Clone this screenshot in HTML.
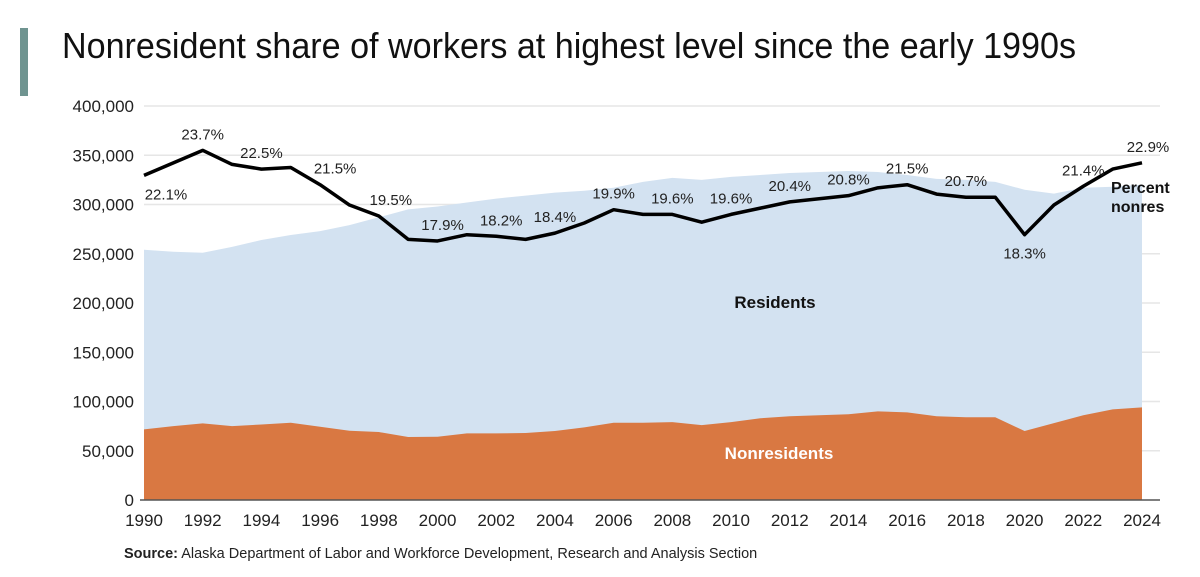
<!DOCTYPE html>
<html><head><meta charset="utf-8"><style>
html,body{margin:0;padding:0;background:#fff;}
svg{display:block;font-family:"Liberation Sans",sans-serif;}
</style></head><body>
<svg id="chart" width="1200" height="577" viewBox="0 0 1200 577">
<rect x="20" y="28" width="8" height="68" fill="#6f9490"/>
<text x="62" y="58" font-size="36" fill="#111" textLength="1014" lengthAdjust="spacingAndGlyphs" style="font-family:'Liberation Sans Narrow','Liberation Sans',sans-serif">Nonresident share of workers at highest level since the early 1990s</text>
<g id="grid"></g><g id="areas"></g><g id="line"></g><g id="labels"></g>
<text x="124" y="558" font-size="14.5" fill="#222"><tspan font-weight="bold">Source:</tspan> Alaska Department of Labor and Workforce Development, Research and Analysis Section</text>
</svg>
<script>
const years=[1990,1991,1992,1993,1994,1995,1996,1997,1998,1999,2000,2001,2002,2003,2004,2005,2006,2007,2008,2009,2010,2011,2012,2013,2014,2015,2016,2017,2018,2019,2020,2021,2022,2023,2024];
const totalWorkers=[254,252,251,257,264,269,273,279,287,295,298,302,306,309,312,314,317,323,327,325,328,330,332,333,334,333,330,326,325,323,315,311,317,318,320];
const nonresidents=[71.7,75,77.8,75,76.7,78.4,74.4,70.3,69,63.9,64.2,67.6,67.6,68,70,73.7,78.4,78.4,79,76,79,83,85,86,87,90,89,85,84,84,70,78,86,92,94];
const percentNonres=[22.1,22.9,23.7,22.8,22.5,22.6,21.5,20.2,19.5,18.0,17.9,18.3,18.2,18.0,18.4,19.05,19.9,19.6,19.6,19.1,19.6,20.0,20.4,20.6,20.8,21.3,21.5,20.9,20.7,20.7,18.3,20.2,21.4,22.5,22.9];
const yTicks=[0,50,100,150,200,250,300,350,400];
const xTicks=[1990,1992,1994,1996,1998,2000,2002,2004,2006,2008,2010,2012,2014,2016,2018,2020,2022,2024];
const labeledYears=[1990,1992,1994,1996,1998,2000,2002,2004,2006,2008,2010,2012,2014,2016,2018,2020,2022,2024];
const NS="http://www.w3.org/2000/svg";
const X0=144,X1=1142,Y0=500,YTOP=106;
const x=yr=>X0+(yr-1990)*(X1-X0)/34;
const y=k=>Y0-k*(Y0-YTOP)/400;
const yp=p=>y(15.86*p-20.9);
function mk(tag,attrs,parent){const e=document.createElementNS(NS,tag);for(const k in attrs)e.setAttribute(k,attrs[k]);parent.appendChild(e);return e;}
const grid=document.getElementById('grid');
yTicks.forEach(t=>{
  if(t>0){const l=mk('line',{x1:X0,x2:1160,y1:y(t),y2:y(t),stroke:'#e6e6e6','stroke-width':1.5},grid);
  
  }
  const tx=mk('text',{x:134,y:y(t)+6,'text-anchor':'end','font-size':17,fill:'#222'},grid);
  tx.textContent=t===0?'0':(t+',000');
  
  
});
xTicks.forEach(t=>{
  const tx=mk('text',{x:x(t),y:526,'text-anchor':'middle','font-size':17,fill:'#222'},grid);
  tx.textContent=t;
  
  
});
const areas=document.getElementById('areas');
let dT='M'+x(years[0])+','+Y0;years.forEach((yr,i)=>dT+=' L'+x(yr)+','+y(totalWorkers[i]));dT+=' L'+x(years[years.length-1])+','+Y0+'Z';
const aT=mk('path',{d:dT,fill:'#d3e2f1'},areas);


let dN='M'+x(years[0])+','+Y0;years.forEach((yr,i)=>dN+=' L'+x(yr)+','+y(nonresidents[i]));dN+=' L'+x(years[years.length-1])+','+Y0+'Z';
const aN=mk('path',{d:dN,fill:'#d97842'},areas);


const ax=mk('line',{x1:X0-4,x2:1160,y1:Y0,y2:Y0,stroke:'#555','stroke-width':1.5},areas);


const rl=mk('text',{x:775,y:308,'text-anchor':'middle','font-size':17,'font-weight':'bold',fill:'#111'},areas);rl.textContent='Residents';


const nl=mk('text',{x:779,y:459,'text-anchor':'middle','font-size':17,'font-weight':'bold',fill:'#fff'},areas);nl.textContent='Nonresidents';


const lg=document.getElementById('line');
const pts=years.map((yr,i)=>x(yr)+','+yp(percentNonres[i])).join(' ');
const pl=mk('polyline',{points:pts,fill:'none',stroke:'#000','stroke-width':3.5,'stroke-linejoin':'round'},lg);


const pn=mk('text',{x:1112,y:193,'font-size':16,'font-weight':'bold',fill:'#111'},lg);
pn.innerHTML='<tspan x="1111">Percent</tspan><tspan x="1111" dy="19">nonres</tspan>';


const lab=document.getElementById('labels');
labeledYears.forEach(yr=>{
  const i=years.indexOf(yr);const p=percentNonres[i];
  const below=(yr===1990||yr===2020);
  let dx=0;if(yr===1990)dx=22;if(yr===1996)dx=15;if(yr===1998)dx=12;if(yr===2000||yr===2002)dx=5;if(yr===2024)dx=6;
  const t=mk('text',{x:x(yr)+dx,y:below?yp(p)+24:yp(p)-11,'text-anchor':'middle','font-size':15,fill:'#222'},lab);
  t.textContent=p.toFixed(1)+'%';
  
  
});
</script>
</body></html>
